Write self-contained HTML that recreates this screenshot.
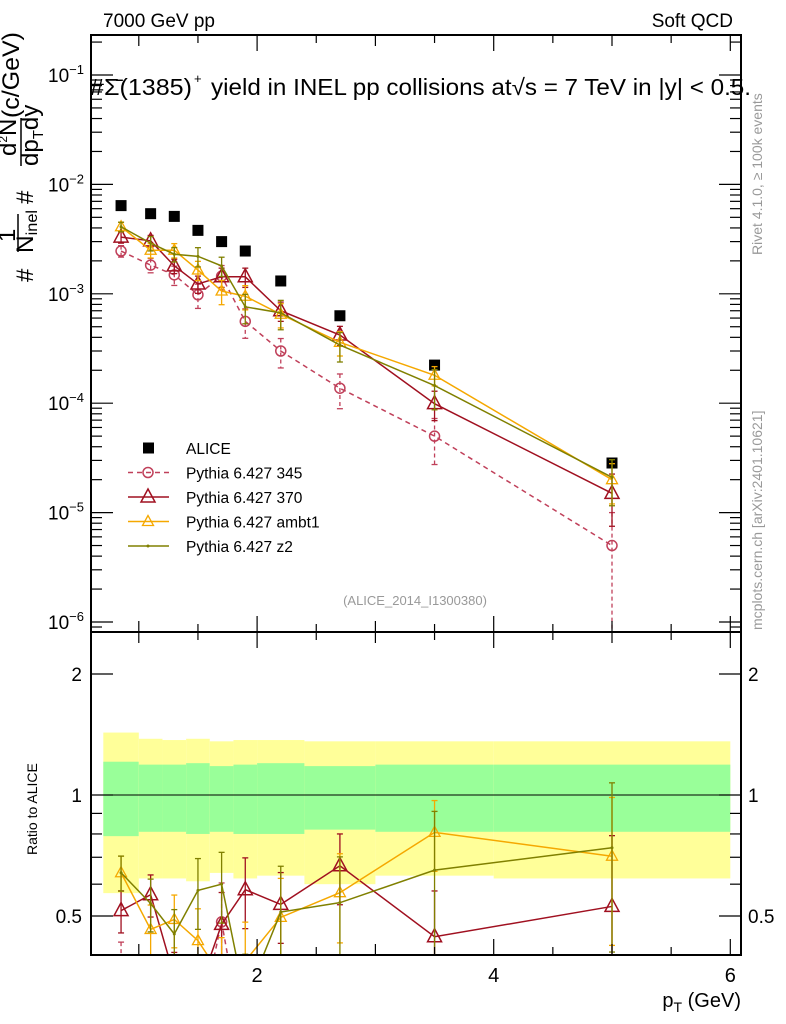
<!DOCTYPE html>
<html><head><meta charset="utf-8"><style>
html,body{margin:0;padding:0;background:#fff;overflow:hidden;width:786px;height:1024px;}
svg{display:block;font-family:"Liberation Sans",sans-serif;}
</style></head><body>
<svg id="c" width="786" height="1024" viewBox="0 0 786 1024" xmlns="http://www.w3.org/2000/svg">
<g id="bands"></g>
<g id="marks"></g>
<g id="axes"></g>
<text x="103" y="27" font-size="19">7000 GeV pp</text>
<text x="733" y="27" font-size="19" text-anchor="end">Soft QCD</text>
<g font-size="23">
<text x="90" y="95" textLength="102" lengthAdjust="spacingAndGlyphs">#Σ̄(1385)</text>
<text x="194" y="83" font-size="13">+</text>
<text x="211" y="95" textLength="540" lengthAdjust="spacingAndGlyphs">yield in INEL pp collisions at√s =  7 TeV in |y| &lt; 0.5.</text>
</g>
<text x="415" y="605" font-size="13" fill="#999" text-anchor="middle">(ALICE_2014_I1300380)</text>
<text transform="translate(762,255) rotate(-90)" font-size="14" fill="#999">Rivet 4.1.0, ≥ 100k events</text>
<text transform="translate(762,630) rotate(-90)" font-size="14" fill="#999">mcplots.cern.ch [arXiv:2401.10621]</text>
<g font-size="24">
<text transform="translate(33,282) rotate(-90)">#</text>
<text transform="translate(15,242) rotate(-90)">1</text>
<line x1="18" y1="214" x2="18" y2="252" stroke="#000" stroke-width="1.5"/>
<text transform="translate(33,253) rotate(-90)" textLength="43" lengthAdjust="spacingAndGlyphs">N<tspan font-size="16" dy="4">inel</tspan></text>
<text transform="translate(33,204) rotate(-90)">#</text>
<text transform="translate(16,156) rotate(-90)">d<tspan font-size="12" dy="-9">2</tspan><tspan dy="9">N</tspan></text>
<line x1="21" y1="118" x2="21" y2="166" stroke="#000" stroke-width="1.5"/>
<text transform="translate(38,166) rotate(-90)">dp<tspan font-size="15" dy="5">T</tspan><tspan dy="-5">dy</tspan></text>
<text transform="translate(19,118) rotate(-90)" textLength="86" lengthAdjust="spacingAndGlyphs">(c/GeV)</text>
</g>
<text transform="translate(37,855) rotate(-90)" font-size="14">Ratio to ALICE</text>
<text x="741" y="1007" font-size="20" text-anchor="end">p<tspan font-size="14" dy="5">T</tspan><tspan dy="-5"> (GeV)</tspan></text>
<g id="legend"></g>
</svg>
<script>
const pt=[0.85,1.1,1.3,1.5,1.7,1.9,2.2,2.7,3.5,5.0];
const binLo=[0.7,1.0,1.2,1.4,1.6,1.8,2.0,2.4,3.0,4.0];
const binHi=[1.0,1.2,1.4,1.6,1.8,2.0,2.4,3.0,4.0,6.0];
const alice=[6.4e-3,5.4e-3,5.1e-3,3.8e-3,3.0e-3,2.46e-3,1.31e-3,6.3e-4,2.23e-4,2.84e-5];
const statUp=[1.21,1.19,1.19,1.2,1.18,1.19,1.2,1.18,1.19,1.19];
const statDn=[0.79,0.81,0.81,0.8,0.81,0.8,0.8,0.82,0.81,0.81];
const totUp=[1.43,1.38,1.37,1.38,1.36,1.37,1.37,1.36,1.36,1.36];
const totDn=[0.57,0.62,0.62,0.61,0.64,0.62,0.63,0.6,0.63,0.62];
const p345=[2.46e-3,1.83e-3,1.49e-3,9.8e-4,1.45e-3,5.6e-4,3.0e-4,1.37e-4,5.0e-5,5.0e-6];
const e345=[0.12,0.15,0.2,0.25,0.25,0.3,0.3,0.35,0.45,1.0];
const p370=[3.3e-3,3.05e-3,1.8e-3,1.23e-3,1.43e-3,1.43e-3,7.0e-4,4.2e-4,9.9e-5,1.5e-5];
const e370=[0.12,0.12,0.15,0.18,0.2,0.2,0.2,0.2,0.3,0.5];
const pambt1=[4.1e-3,2.5e-3,2.5e-3,1.65e-3,1.06e-3,9.5e-4,6.5e-4,3.6e-4,1.8e-4,2.0e-5];
const eambt1=[0.1,0.15,0.15,0.2,0.25,0.25,0.25,0.25,0.2,0.4];
const pz2=[4.1e-3,2.9e-3,2.3e-3,2.2e-3,1.8e-3,7.6e-4,6.7e-4,3.4e-4,1.45e-4,2.1e-5];
const ez2=[0.1,0.15,0.15,0.2,0.2,0.3,0.3,0.3,0.4,0.45];
const xTicks=[2,4,6];
const yTicks=[-1,-2,-3,-4,-5,-6];
const rTicks=[2,1,0.5];

const NS='http://www.w3.org/2000/svg';
const L=91,R=741,T=35,M=632,B=955;
const X=v=>20.5+118.3*v;
const Y=v=>75-109.4*(Math.log10(v)+1);
const RY=v=>795-121*Math.log2(v);
function el(tag,a,p){const e=document.createElementNS(NS,tag);for(const k in a)e.setAttribute(k,a[k]);(p||document.getElementById('marks')).appendChild(e);return e;}
const bands=document.getElementById('bands'),axes=document.getElementById('axes'),marks=document.getElementById('marks');
const clipR=el('clipPath',{id:'cr'},document.getElementById('c'));el('rect',{x:L,y:M,width:R-L,height:B-M},clipR);
const clipM=el('clipPath',{id:'cm'},document.getElementById('c'));el('rect',{x:L,y:T,width:R-L,height:M-T},clipM);
for(let i=0;i<pt.length;i++){
 let r=el('rect',{x:X(binLo[i]),y:RY(totUp[i]),width:X(binHi[i])-X(binLo[i]),height:RY(totDn[i])-RY(totUp[i]),fill:'#ffff99'},bands);
 
 
 let g=el('rect',{x:X(binLo[i]),y:RY(statUp[i]),width:X(binHi[i])-X(binLo[i]),height:RY(statDn[i])-RY(statUp[i]),fill:'#99ff99'},bands);
 
 
}
el('line',{x1:L,x2:R,y1:RY(1),y2:RY(1),stroke:'#000','stroke-width':1},bands);
const series=[
 {name:'Pythia 6.427 345',v:p345,e:e345,c:'#c0405a',m:'circle',dash:'5,4'},
 {name:'Pythia 6.427 370',v:p370,e:e370,c:'#a01020',m:'tri',dash:''},
 {name:'Pythia 6.427 ambt1',v:pambt1,e:eambt1,c:'#f5a800',m:'tri-s',dash:''},
 {name:'Pythia 6.427 z2',v:pz2,e:ez2,c:'#808000',m:'dot',dash:''}];
function marker(s,x,y,g){
 if(s.m==='circle')return el('circle',{cx:x,cy:y,r:5,fill:'none',stroke:s.c,'stroke-width':1.5},g);
 if(s.m==='tri')return el('polygon',{points:`${x},${y-8} ${x-7},${y+5} ${x+7},${y+5}`,fill:'none',stroke:s.c,'stroke-width':1.5},g);
 if(s.m==='tri-s')return el('polygon',{points:`${x},${y-6} ${x-5.5},${y+4} ${x+5.5},${y+4}`,fill:'none',stroke:s.c,'stroke-width':1.3},g);
 return el('circle',{cx:x,cy:y,r:1.5,fill:s.c},g);
}
function drawSeries(s,vals,errs,yf,clip){
 const g=el('g',{'clip-path':`url(#${clip})`},marks);
 
 
 el('polyline',{points:vals.map((v,i)=>X(pt[i])+','+yf(v)).join(' '),fill:'none',stroke:s.c,'stroke-width':1.5,'stroke-dasharray':s.dash},g);
 vals.forEach((v,i)=>{
  const x=X(pt[i]),y1=yf(v*(1+errs[i])),y2=yf(Math.max(v*(1-errs[i]),1e-9));
  el('line',{x1:x,x2:x,y1:y1,y2:y2,stroke:s.c,'stroke-width':1.3,'stroke-dasharray':s.dash?'4,3':''},g);
  el('line',{x1:x-3,x2:x+3,y1:y1,y2:y1,stroke:s.c,'stroke-width':1.3},g);
  el('line',{x1:x-3,x2:x+3,y1:y2,y2:y2,stroke:s.c,'stroke-width':1.3},g);
  const mk=marker(s,x,yf(v),g);
  
  
 });
}
alice.forEach((v,i)=>{
 const r=el('rect',{x:X(pt[i])-5.5,y:Y(v)-5.5,width:11,height:11,fill:'#000'});
 
 
});
series.forEach(s=>{
 drawSeries(s,s.v,s.e,Y,'cm');
 drawSeries(s,s.v.map((v,i)=>v/alice[i]),s.e,RY,'cr');
});
el('rect',{x:L,y:T,width:R-L,height:M-T,fill:'none',stroke:'#000','stroke-width':2},axes);
el('rect',{x:L,y:M,width:R-L,height:B-M,fill:'none',stroke:'#000','stroke-width':2},axes);
for(let v=1;v<=6;v+=0.5){
 const x=X(v),len=(v%1===0)?(v%2===0?16:11):8;
 [[T,1],[M,-1],[M,1],[B,-1]].forEach(([y,d])=>el('line',{x1:x,x2:x,y1:y,y2:y+d*len,stroke:'#000','stroke-width':1.2},axes));
}
xTicks.forEach(v=>{const t=el('text',{x:X(v),y:982,'font-size':20,'text-anchor':'middle'},axes);t.textContent=v;
 });
for(let d=-7;d<=-1;d++)for(let k=1;k<10;k++){
 const v=k*Math.pow(10,d),y=Y(v);if(y<T||y>M)continue;
 const len=k===1?22:11;
 el('line',{x1:L,x2:L+len,y1:y,y2:y,stroke:'#000','stroke-width':1.2},axes);
 el('line',{x1:R,x2:R-len,y1:y,y2:y,stroke:'#000','stroke-width':1.2},axes);
}
yTicks.forEach(d=>{const t=el('text',{x:84,y:Y(Math.pow(10,d))+7,'font-size':19,'text-anchor':'end'},axes);
 t.innerHTML='10<tspan dy="-8" font-size="13">−'+(-d)+'</tspan>';
 });
[0.5,0.6,0.7,0.8,0.9,1,2].forEach(v=>{const y=RY(v),len=(v===1||v===2||v===0.5)?22:11;
 el('line',{x1:L,x2:L+len,y1:y,y2:y,stroke:'#000','stroke-width':1.2},axes);
 el('line',{x1:R,x2:R-len,y1:y,y2:y,stroke:'#000','stroke-width':1.2},axes);});
rTicks.forEach(v=>{
 const t=el('text',{x:82,y:RY(v)+7,'font-size':19,'text-anchor':'end'},axes);t.textContent=v;
 
 const t2=el('text',{x:748,y:RY(v)+7,'font-size':19},axes);t2.textContent=v;
 
});
const lg=document.getElementById('legend');
const ents=[{name:'ALICE',m:'sq'}].concat(series);
ents.forEach((s,i)=>{
 const y=448+i*24.5;
 const g=el('g',{},lg);
 
 
 if(s.m==='sq')el('rect',{x:143,y:y-5.5,width:11,height:11,fill:'#000'},g);
 else{el('line',{x1:128,x2:169,y1:y,y2:y,stroke:s.c,'stroke-width':1.5,'stroke-dasharray':s.dash},g);marker(s,148,y,g);}
 const t=el('text',{x:186,y:y+6,'font-size':15.5},g);t.textContent=s.name;
});
</script>
</body></html>
